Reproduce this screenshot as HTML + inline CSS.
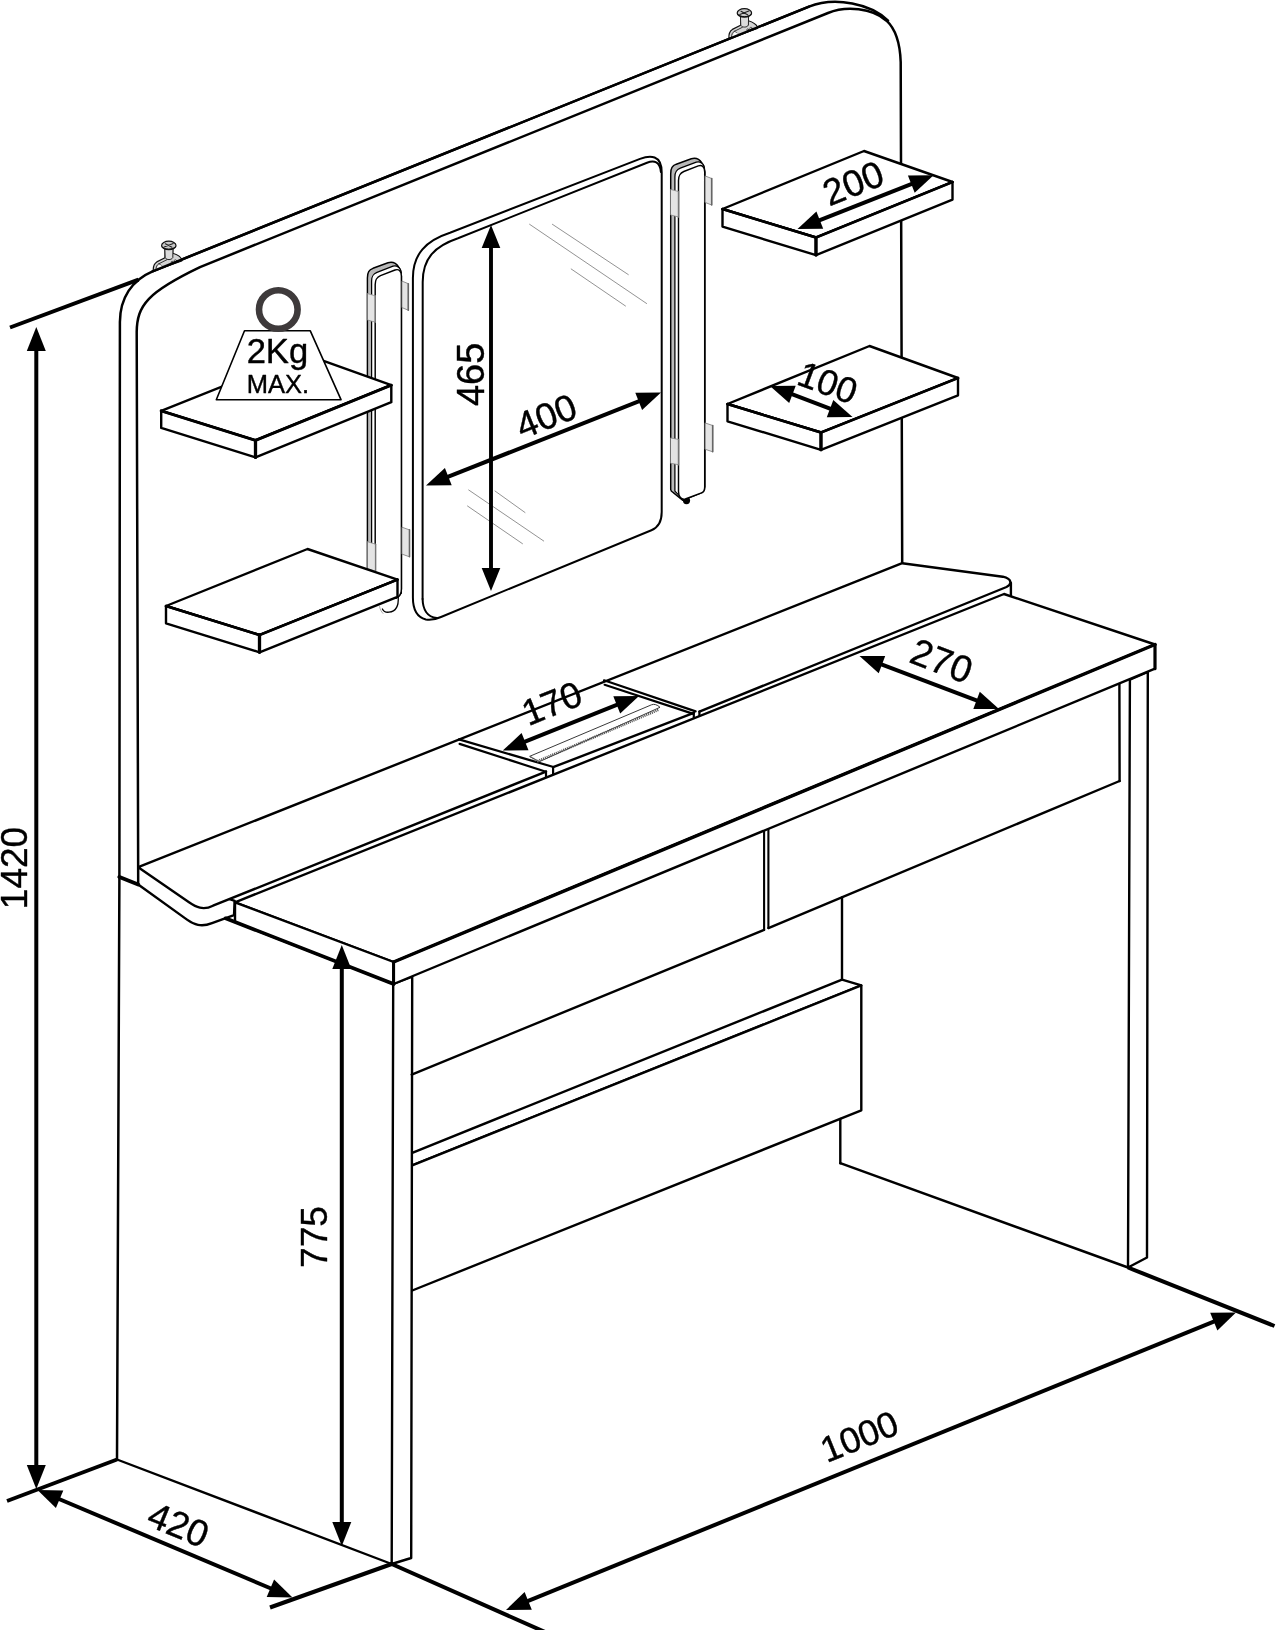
<!DOCTYPE html>
<html><head><meta charset="utf-8"><title>Dressing table dimensions</title>
<style>
html,body{margin:0;padding:0;background:#fff}
svg{display:block;will-change:transform}
svg{stroke:#000;fill:none;stroke-linecap:round;stroke-linejoin:round}
svg text{font-family:"Liberation Sans",sans-serif;fill:#000;stroke:#000;stroke-width:0.4px}
</style></head><body>
<svg width="1277" height="1630" viewBox="0 0 1277 1630">
<rect x="0" y="0" width="1277" height="1630" fill="#fff" stroke="none"/>
<path d="M117,1459.5 L119.4,877 L119.9,322 C120,298 132,280 152.6,271.3 L809,6.6 C835,-4 872,4 888,20.7" stroke-width="2.5" fill="none" />
<path d="M138.2,884.5 L136.7,332 C137,305 148,292 200,267.1 L828,13 C846,5.7 872,8 886.5,20.7 C895,28.5 900,42 900.7,62 L902.2,563.2" stroke-width="2.5" fill="none" />
<g transform="translate(168.8 245.4)">
<path d="M-15.5,25.5 C-15.8,21 -14.5,18 -12,16.5 L-3.8,12.3 L-3.8,3 L4,3 L4,7.8 C8,9 11.5,11 13,13.8 L13,15.6 Z" fill="#d4d4d4" stroke="#111" stroke-width="1.2"/>
<path d="M-12.8,24.6 C-13,21.5 -12,19.5 -10,18.4 L-4.8,22 M-10,18.4 L-2,14.4" stroke="#222" stroke-width="0.9" fill="none"/>
<path d="M-12.6,24.4 L-9.8,19.2 L-4.6,21.4 Z" fill="#fff" stroke="none"/>
<path d="M-4,2.5 L-3.6,12.5 C-2,14.8 2.6,14.8 4,12.2 L4.2,2.5 Z" fill="#dcdcdc" stroke="#222" stroke-width="1"/>
<circle cx="6.6" cy="15.5" r="1.2" fill="#fff" stroke="#222" stroke-width="0.7"/>
<circle cx="3.4" cy="16.9" r="1.0" fill="#ccc" stroke="#222" stroke-width="0.7"/>
<ellipse cx="0" cy="0" rx="7.2" ry="4.2" fill="#c8c8c8" stroke="#111" stroke-width="1.2"/>
<path d="M-4.6,1.6 L4.4,-1.8 M-3.4,-1.6 L3.2,1.8" stroke="#222" stroke-width="1.1"/>
<path d="M-6.8,1.4 C-5,4.6 5,4.6 6.8,1.4" stroke="#111" stroke-width="1" fill="none"/>
</g>
<g transform="translate(744.4 12.9)">
<path d="M-15.5,25.5 C-15.8,21 -14.5,18 -12,16.5 L-3.8,12.3 L-3.8,3 L4,3 L4,7.8 C8,9 11.5,11 13,13.8 L13,15.6 Z" fill="#d4d4d4" stroke="#111" stroke-width="1.2"/>
<path d="M-12.8,24.6 C-13,21.5 -12,19.5 -10,18.4 L-4.8,22 M-10,18.4 L-2,14.4" stroke="#222" stroke-width="0.9" fill="none"/>
<path d="M-12.6,24.4 L-9.8,19.2 L-4.6,21.4 Z" fill="#fff" stroke="none"/>
<path d="M-4,2.5 L-3.6,12.5 C-2,14.8 2.6,14.8 4,12.2 L4.2,2.5 Z" fill="#dcdcdc" stroke="#222" stroke-width="1"/>
<circle cx="6.6" cy="15.5" r="1.2" fill="#fff" stroke="#222" stroke-width="0.7"/>
<circle cx="3.4" cy="16.9" r="1.0" fill="#ccc" stroke="#222" stroke-width="0.7"/>
<ellipse cx="0" cy="0" rx="7.2" ry="4.2" fill="#c8c8c8" stroke="#111" stroke-width="1.2"/>
<path d="M-4.6,1.6 L4.4,-1.8 M-3.4,-1.6 L3.2,1.8" stroke="#222" stroke-width="1.1"/>
<path d="M-6.8,1.4 C-5,4.6 5,4.6 6.8,1.4" stroke="#111" stroke-width="1" fill="none"/>
</g>
<path d="M152.6,271.3 L809,6.6" stroke-width="2.5" fill="none" />
<path d="M412.9,597.6 L412.9,278 C412.9,254 426,240.5 450,232.7 L640,158.9 C650,155 661.7,154.5 661.7,172.4 L661.7,512 C661.7,522 658,527.6 651.4,530.2 L441,617 C436,619.2 430,620.4 425.8,619.5 C418,617.5 412.9,610 412.9,597.6 Z" stroke-width="2.0" fill="#fff" />
<path d="M422.6,599 L422.7,282 C422.7,258 435,246 458,238.2 L647,162.8 C654,160 660,161.5 660.9,172" stroke-width="2.0" fill="none" />
<path d="M422.6,599 C422.8,609 427,617 436.8,618" stroke-width="2.0" fill="none" />
<line x1="529.6" y1="224.3" x2="646.6" y2="303.5" stroke-width="0.8" stroke="#777"/>
<line x1="552.4" y1="224.3" x2="628.3" y2="274.6" stroke-width="0.8" stroke="#777"/>
<line x1="571.2" y1="269" x2="625.5" y2="306" stroke-width="0.8" stroke="#777"/>
<line x1="467.5" y1="506" x2="522.5" y2="543.7" stroke-width="0.8" stroke="#777"/>
<line x1="468.7" y1="490" x2="543.7" y2="541" stroke-width="0.8" stroke="#777"/>
<line x1="495" y1="491" x2="525" y2="512.5" stroke-width="0.8" stroke="#777"/>
<g transform="translate(0.0 0.0)">
<path d="M367.4,593.0 L367.4,278 C367.4,272 369,270 373,268.3 L388,262.8 C392,261.6 396,263 398.6,267 C400.6,269.5 401.4,272 401.4,276 L401.4,589.0 C401.4,595.0 399,597.0 396,598.0 L367.4,598.0 Z" fill="#b9b9b9" stroke="#000" stroke-width="1.45"/>
<path d="M371.6,593.0 L371.6,281 C371.6,276 373,274 377,272.3 L393,266.2 C396,265.3 399,267 400.6,270 L401.4,276 L401.4,593.0 Z" fill="#fff" stroke="#000" stroke-width="1.25"/>
<path d="M375.2,593.0 L375.2,284.5 C375.2,279.5 376.5,277.5 380.5,275.6 L395,270 C398.5,268.8 401.4,270.5 401.4,276 L401.4,589.0 C401.4,595.0 399,597.0 396,598.0 L375.2,598.0 Z" fill="#fff" stroke="#000" stroke-width="1.45"/>
</g>
<polygon points="367.6,293.6 375.2,295.8 375.2,322.2 367.6,320.0" fill="#e4e4e4" stroke="#888" stroke-width="0.8" />
<line x1="375.2" y1="295.8" x2="375.2" y2="322.2" stroke-width="1.4" stroke="#777"/>
<polygon points="367.6,541.7 375.6,544.2 375.6,571.2 367.6,568.7" fill="#e4e4e4" stroke="#888" stroke-width="0.8" />
<line x1="375.6" y1="544.2" x2="375.6" y2="571.2" stroke-width="1.4" stroke="#777"/>
<polygon points="402.2,281.2 408.3,283.7 408.3,310.2 402.2,307.7" fill="#e4e4e4" stroke="#777" stroke-width="0.8" />
<line x1="408.3" y1="283.7" x2="408.3" y2="310.2" stroke-width="1.6" stroke="#666"/>
<polygon points="402.2,527.3 409.5,529.9 409.5,556.8 402.2,554.2" fill="#e4e4e4" stroke="#777" stroke-width="0.8" />
<line x1="409.5" y1="529.9" x2="409.5" y2="556.8" stroke-width="1.6" stroke="#666"/>
<g transform="translate(303.3 -104.1)">
<path d="M367.4,593.7 L367.4,278 C367.4,272 369,270 373,268.3 L388,262.8 C392,261.6 396,263 398.6,267 C400.6,269.5 401.4,272 401.4,276 L401.4,591.2 C401.4,595.7 400,596.7 397.5,597.2 L379.3,604.3 L370,596.7 C368,595.7 367.4,594.7 367.4,593.7 Z" fill="#b9b9b9" stroke="#000" stroke-width="1.45"/>
<path d="M371.6,595.2 L371.6,281 C371.6,276 373,274 377,272.3 L393,266.2 C396,265.3 399,267 400.6,270 L401.4,276 L401.4,591.2 L379,602.7 Z" fill="#fff" stroke="#000" stroke-width="1.25"/>
<circle cx="383.2" cy="604.7" r="3.6" fill="#000" stroke="none"/>
<path d="M375.2,595.7 L375.2,284.5 C375.2,279.5 376.5,277.5 380.5,275.6 L395,270 C398.5,268.8 401.4,270.5 401.4,276 L401.4,591.2 C401.4,595.7 400,596.7 397.5,597.2 L382,603.1 C378,604.2 375.2,600.7 375.2,595.7 Z" fill="#fff" stroke="#000" stroke-width="1.45"/>
</g>
<polygon points="670.9,189.5 678.5,191.5 678.5,217.0 670.9,215.0" fill="#e4e4e4" stroke="#888" stroke-width="0.8" />
<line x1="678.5" y1="191.5" x2="678.5" y2="217.0" stroke-width="1.4" stroke="#777"/>
<polygon points="670.9,438.0 678.5,439.4 678.5,464.7 670.9,463.3" fill="#e4e4e4" stroke="#888" stroke-width="0.8" />
<line x1="678.5" y1="439.4" x2="678.5" y2="464.7" stroke-width="1.4" stroke="#777"/>
<polygon points="705.3,176.0 711.7,178.5 711.7,205.0 705.3,202.5" fill="#e4e4e4" stroke="#777" stroke-width="0.8" />
<line x1="711.7" y1="178.5" x2="711.7" y2="205.0" stroke-width="1.6" stroke="#666"/>
<polygon points="705.3,423.0 712.7,425.5 712.7,451.8 705.3,449.3" fill="#e4e4e4" stroke="#777" stroke-width="0.8" />
<line x1="712.7" y1="425.5" x2="712.7" y2="451.8" stroke-width="1.6" stroke="#666"/>
<path d="M398.2,597 C398.8,606 396,611.5 389,612.2 C386,612.5 383.5,611.5 382.4,609" stroke-width="1.3" fill="none" />
<path d="M379.6,606.5 C380,609 381,611.5 383,613.5" stroke-width="0.8" fill="none" stroke="#999"/>
<polygon points="161.2,410.9 304.0,353.8 391.3,385.2 255.5,440.4" fill="#fff" stroke="#000" stroke-width="2.4" />
<polygon points="161.2,410.9 255.5,440.4 255.5,457.4 161.2,427.9" fill="#fff" stroke="#000" stroke-width="2.4" />
<polygon points="255.5,440.4 391.3,385.2 391.3,402.2 255.5,457.4" fill="#fff" stroke="#000" stroke-width="2.4" />
<path d="M161.2,410.9 L255.5,440.4 L391.3,385.2" stroke-width="3.0" />
<path d="M255.5,440.4 L255.5,457.4" stroke-width="3.3" />
<polygon points="166.0,606.0 307.5,549.0 397.5,579.6 259.5,635.0" fill="#fff" stroke="#000" stroke-width="2.4" />
<polygon points="166.0,606.0 259.5,635.0 259.5,652.3 166.0,623.3" fill="#fff" stroke="#000" stroke-width="2.4" />
<polygon points="259.5,635.0 397.5,579.6 397.5,596.9 259.5,652.3" fill="#fff" stroke="#000" stroke-width="2.4" />
<path d="M166.0,606.0 L259.5,635.0 L397.5,579.6" stroke-width="2.6" />
<path d="M259.5,635.0 L259.5,652.3" stroke-width="3.3" />
<polygon points="722.5,209.0 864.0,151.0 952.5,182.0 816.0,237.5" fill="#fff" stroke="#000" stroke-width="2.4" />
<polygon points="722.5,209.0 816.0,237.5 816.0,255.1 722.5,226.6" fill="#fff" stroke="#000" stroke-width="2.4" />
<polygon points="816.0,237.5 952.5,182.0 952.5,199.6 816.0,255.1" fill="#fff" stroke="#000" stroke-width="2.4" />
<path d="M722.5,209.0 L816.0,237.5 L952.5,182.0" stroke-width="2.6" />
<path d="M816.0,237.5 L816.0,255.1" stroke-width="3.3" />
<polygon points="727.5,404.0 869.5,346.0 958.0,378.0 821.0,432.5" fill="#fff" stroke="#000" stroke-width="2.4" />
<polygon points="727.5,404.0 821.0,432.5 821.0,449.8 727.5,421.3" fill="#fff" stroke="#000" stroke-width="2.4" />
<polygon points="821.0,432.5 958.0,378.0 958.0,395.3 821.0,449.8" fill="#fff" stroke="#000" stroke-width="2.4" />
<path d="M727.5,404.0 L821.0,432.5 L958.0,378.0" stroke-width="2.6" />
<path d="M821.0,432.5 L821.0,449.8" stroke-width="3.3" />
<polygon points="244.5,330.8 310.3,330.8 341.0,399.7 216.3,399.7" fill="#fff" stroke="#000" stroke-width="1.6" />
<circle cx="278.3" cy="309.5" r="19.3" fill="#fff" stroke-width="6.6" stroke="#3e3a3b"/>
<text x="277.4" y="363.4" font-size="34.6" text-anchor="middle">2Kg</text>
<text x="278" y="393.4" font-size="25.5" text-anchor="middle">MAX.</text>
<path d="M138.2,884.5 L187,919.6 C194,924.6 201,927.6 212,923.2 L234,915.2 L234.7,900.8 L138.2,867.2 Z" stroke-width="2.4" fill="#fff" />
<path d="M138.2,867.2 L189,902.3 C196,907 203,910.8 213,905.7 L1006.5,587 C1012,584.5 1012.5,579 1002.8,576.7 L902.2,563.2 Z" stroke-width="0" fill="#fff" stroke="none"/>
<path d="M546,771.6 L213,905.7 C203,910.8 196,907 189,902.3 L138.2,867.2 L902.2,563.2 L1002.8,576.7 C1012.5,579 1012,584.5 1006.5,587 L699.4,711.6" stroke-width="2.4" fill="none" />
<path d="M553.1,767.2 L693.8,712.8" stroke-width="2.4" fill="none" />
<path d="M1010.9,583 L1010.9,595.5" stroke-width="2.4" fill="none" />
<path d="M119.4,877 L138.2,884.5" stroke-width="4" fill="none" />
<path d="M459.0,739.4 L552.6,766.8" stroke-width="2.2" />
<path d="M459.6,743.9 L546.0,771.8" stroke-width="2.2" />
<path d="M604.0,680.3 L695.6,711.4" stroke-width="2.2" />
<path d="M604.6,684.8 L692.6,713.6" stroke-width="2.2" />
<path d="M546,771.6 L546,777.6 M553.1,767.2 L553.1,774.8 M693.8,712.8 L693.8,718.4 M699.4,711.6 L699.4,716.2" stroke-width="2.2" fill="none" />
<path d="M530,756.2 L651.5,704.8 C654,703.8 657,704.5 660,707.3 L539.5,761.6 Z" stroke-width="0.9" fill="none" stroke="#222"/>
<line x1="537.6" y1="761.2" x2="659" y2="709.6" stroke-width="2.6" stroke="#555" stroke-dasharray="1.1 0.9" stroke-linecap="butt"/>
<line x1="530.5" y1="757" x2="538.5" y2="761.8" stroke-width="2" stroke="#777" stroke-dasharray="1 1" stroke-linecap="butt"/>
<polygon points="411.0,976.0 1155.0,668.7 1154.0,700.0 411.0,1074.0" fill="#fff" stroke="none" stroke-width="0" />
<path d="M842.0,897.5 L842.0,979.6" stroke-width="2.4" />
<polygon points="411.0,1153.3 842.0,979.6 861.3,985.4 411.0,1165.8" fill="#fff" stroke="#000" stroke-width="2.4" />
<polygon points="411.0,1165.8 861.3,985.4 861.3,1110.3 411.0,1291.0" fill="#fff" stroke="#000" stroke-width="2.4" />
<path d="M840.3,1119.0 L840.3,1163.2" stroke-width="2.4" />
<path d="M840.3,1163.2 L1128.0,1267.5" stroke-width="2.4" />
<path d="M117.0,1459.5 L391.7,1564.0" stroke-width="2.4" />
<polygon points="393.2,984.0 412.2,976.6 411.2,1558.0 391.7,1564.0" fill="#fff" stroke="#000" stroke-width="2.4" />
<polygon points="1129.9,679.6 1147.8,672.0 1147.0,1257.5 1128.0,1267.5" fill="#fff" stroke="#000" stroke-width="2.4" />
<path d="M411.7,1074.6 L764.1,929.9" stroke-width="2.4" />
<path d="M768.4,928.1 L1119.6,781.0" stroke-width="2.4" />
<path d="M764.1,830.0 L764.1,929.9" stroke-width="2.1" />
<path d="M768.4,828.4 L768.4,928.1" stroke-width="2.1" />
<path d="M1119.4,683.6 L1119.6,781.0" stroke-width="2.4" />
<polygon points="235.0,902.3 1004.0,594.0 1155.0,644.5 393.6,962.0" fill="#fff" stroke="#000" stroke-width="2.4" />
<polygon points="235.0,902.3 393.6,962.0 393.6,984.0 235.0,922.0" fill="#fff" stroke="#000" stroke-width="2.4" />
<polygon points="393.6,962.0 1155.0,644.5 1155.0,668.7 393.6,984.0" fill="#fff" stroke="#000" stroke-width="2.4" />
<path d="M393.6,962.0 L1155.0,644.5" stroke-width="3.4" />
<path d="M225.5,918.3 L393.6,984.0" stroke-width="3.6" />
<path d="M393.6,962.0 L393.6,984.0" stroke-width="3.0" />
<path d="M1155.0,644.5 L1155.0,668.7" stroke-width="3.0" />
<path d="M10.0,327.5 L138.5,279.6" stroke-width="4" stroke-linecap="butt"/>
<path d="M7.0,1501.0 L117.0,1459.5" stroke-width="4" stroke-linecap="butt"/>
<path d="M270.0,1607.5 L391.7,1564.0" stroke-width="4" stroke-linecap="butt"/>
<path d="M391.7,1564.0 L545.0,1632.0" stroke-width="4" />
<path d="M1128.0,1267.5 L1274.5,1326.0" stroke-width="4" stroke-linecap="butt"/>
<polygon points="36.3,327.0 45.8,351.0 26.8,351.0" fill="#000" stroke="none"/>
<polygon points="36.3,1489.0 26.8,1465.0 45.8,1465.0" fill="#000" stroke="none"/>
<line x1="36.3" y1="349.0" x2="36.3" y2="1467.0" stroke-width="4.0" stroke-linecap="butt"/>
<polygon points="37.5,1490.0 63.3,1490.6 55.9,1508.1" fill="#000" stroke="none"/>
<polygon points="292.5,1597.5 266.7,1596.9 274.1,1579.4" fill="#000" stroke="none"/>
<line x1="57.8" y1="1498.5" x2="272.2" y2="1589.0" stroke-width="4.0" stroke-linecap="butt"/>
<polygon points="506.0,1610.0 524.6,1592.1 531.8,1609.7" fill="#000" stroke="none"/>
<polygon points="1236.0,1312.5 1217.4,1330.4 1210.2,1312.8" fill="#000" stroke="none"/>
<line x1="526.4" y1="1601.7" x2="1215.6" y2="1320.8" stroke-width="4.0" stroke-linecap="butt"/>
<polygon points="341.8,945.0 351.3,969.0 332.3,969.0" fill="#000" stroke="none"/>
<polygon points="341.8,1546.0 332.3,1522.0 351.3,1522.0" fill="#000" stroke="none"/>
<line x1="341.8" y1="967.0" x2="341.8" y2="1524.0" stroke-width="4.0" stroke-linecap="butt"/>
<polygon points="491.0,225.0 500.3,248.0 481.7,248.0" fill="#000" stroke="none"/>
<polygon points="491.0,591.0 481.7,568.0 500.3,568.0" fill="#000" stroke="none"/>
<line x1="491.0" y1="246.0" x2="491.0" y2="570.0" stroke-width="3.9" stroke-linecap="butt"/>
<polygon points="426.0,485.5 444.9,468.1 451.7,485.3" fill="#000" stroke="none"/>
<polygon points="661.0,392.5 642.1,409.9 635.3,392.7" fill="#000" stroke="none"/>
<line x1="446.5" y1="477.4" x2="640.5" y2="400.6" stroke-width="4" stroke-linecap="butt"/>
<polygon points="797.5,229.0 816.4,211.6 823.2,228.8" fill="#000" stroke="none"/>
<polygon points="933.6,175.3 914.7,192.7 907.9,175.5" fill="#000" stroke="none"/>
<line x1="818.0" y1="220.9" x2="913.1" y2="183.4" stroke-width="4" stroke-linecap="butt"/>
<polygon points="770.0,386.0 795.7,385.8 789.2,403.1" fill="#000" stroke="none"/>
<polygon points="852.5,417.0 826.8,417.2 833.3,399.9" fill="#000" stroke="none"/>
<line x1="790.6" y1="393.7" x2="831.9" y2="409.3" stroke-width="4" stroke-linecap="butt"/>
<polygon points="502.8,750.5 521.6,733.0 528.5,750.2" fill="#000" stroke="none"/>
<polygon points="639.0,696.0 620.2,713.5 613.3,696.3" fill="#000" stroke="none"/>
<line x1="523.2" y1="742.3" x2="618.6" y2="704.2" stroke-width="4" stroke-linecap="butt"/>
<polygon points="859.5,656.0 885.2,655.9 878.7,673.2" fill="#000" stroke="none"/>
<polygon points="999.0,709.0 973.3,709.1 979.8,691.8" fill="#000" stroke="none"/>
<line x1="880.1" y1="663.8" x2="978.4" y2="701.2" stroke-width="4" stroke-linecap="butt"/>
<text x="27.0" y="868.0" font-size="37" text-anchor="middle" transform="rotate(-90 27.0 868.0)" >1420</text>
<text x="327.0" y="1237.0" font-size="37" text-anchor="middle" transform="rotate(-90 327.0 1237.0)" >775</text>
<text x="484.0" y="374.4" font-size="38" text-anchor="middle" transform="rotate(-90 484.0 374.4)" >465</text>
<text x="864.0" y="1448.0" font-size="36" text-anchor="middle" transform="rotate(-21.9 864.0 1448.0)" >1000</text>
<text x="173.5" y="1536.5" font-size="37" text-anchor="middle" transform="rotate(22.5 173.5 1536.5)" >420</text>
<text x="551.0" y="428.0" font-size="37" text-anchor="middle" transform="rotate(-21.9 551.0 428.0)" >400</text>
<text x="858.0" y="195.0" font-size="37" text-anchor="middle" transform="rotate(-21.9 858.0 195.0)" >200</text>
<text x="823.5" y="394.2" font-size="36" text-anchor="middle" transform="rotate(20.5 823.5 394.2)" >100</text>
<text x="556.5" y="715.0" font-size="36.5" text-anchor="middle" transform="rotate(-21.9 556.5 715.0)" >170</text>
<text x="937.0" y="673.0" font-size="37.5" text-anchor="middle" transform="rotate(21 937.0 673.0)" >270</text>
</svg>
</body></html>
